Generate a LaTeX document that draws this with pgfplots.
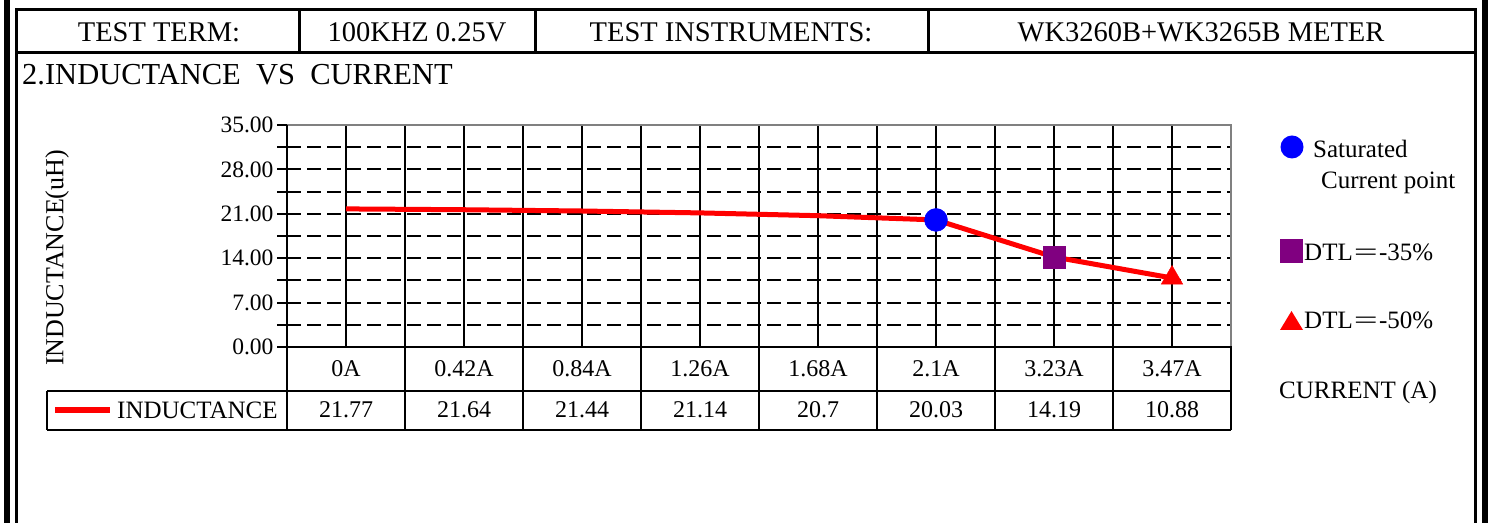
\documentclass[border=0pt]{standalone}
\usepackage{pgfplots}
\pgfplotsset{compat=1.18}
\usepackage{pgfplotstable}
\usepackage{graphicx}
\usepackage{fontspec}
\setmainfont{Liberation Serif}
\definecolor{mypurple}{RGB}{128,0,128}
\definecolor{axgray}{RGB}{128,128,128}
\newcommand{\hdfont}{\fontsize{28.5bp}{32bp}\selectfont}
\newcommand{\ttlfont}{\fontsize{30.5bp}{34bp}\selectfont}
\newcommand{\tbfont}{\fontsize{24bp}{28bp}\selectfont}
\newcommand{\lgfont}{\fontsize{25bp}{29bp}\selectfont}
\newcommand{\feq}{\makebox[1.05em]{\scalebox{1.7}[1]{=}}}

\pgfplotstableread{
x y
0 21.77
1 21.64
2 21.44
3 21.14
4 20.7
5 20.03
6 14.19
7 10.88
}\inductance

\begin{document}
\begin{tikzpicture}[x=1bp,y=1bp]
\useasboundingbox (0,0) rectangle (1493,523);
\fill[white] (0,0) rectangle (1493,523);
% outer frame
\fill[black] (4,0) rectangle (10,523);
\fill[black] (1482,0) rectangle (1488,523);
\draw[line width=3bp] (16.5,0) -- (16.5,513.5) -- (1475.5,513.5) -- (1475.5,0);
\draw[line width=3bp] (16.5,470.5) -- (1475.5,470.5);
\foreach \xx in {299,535,928} \draw[line width=3bp] (\xx,513.5) -- (\xx,470.5);
\node[font=\hdfont, inner sep=0] at (159,491) {TEST TERM:};
\node[font=\hdfont, inner sep=0] at (417,491) {100KHZ 0.25V};
\node[font=\hdfont, inner sep=0] at (731,491) {TEST INSTRUMENTS:};
\node[font=\hdfont, inner sep=0] at (1201,491) {WK3260B+WK3265B METER};
\node[font=\ttlfont, inner sep=0, anchor=west] at (22,448) {2.INDUCTANCE\ \ VS\ \ CURRENT};

\begin{axis}[
  at={(287bp,176bp)}, anchor=south west,
  scale only axis, width=944bp, height=222bp,
  xmin=-0.5, xmax=7.5, ymin=0, ymax=35,
  xtick={0,...,7}, minor xtick={0.5,1.5,...,6.5},
  xticklabels={},
  ytick={0,7,...,35}, minor ytick={3.5,10.5,...,31.5},
  ytick pos=left,
  grid=both,
  major x grid style={black, line width=2bp, solid},
  minor x grid style={black, line width=2bp, solid},
  major y grid style={black, line width=2bp, dash pattern=on 14bp off 6bp},
  minor y grid style={black, line width=2bp, dash pattern=on 14bp off 6bp},
  axis line style={draw=none},
  tick align=outside,
  major tick length=10bp, minor tick length=10bp,
  xtick style={draw=none},
  ytick style={black, line width=2bp},
  yticklabel style={font=\fontsize{23.5bp}{27bp}\selectfont, /pgf/number format/.cd, fixed, fixed zerofill, precision=2},
  /pgf/number format/assume math mode=true,
  clip=false,
]
\addplot[red, line width=5bp, mark=none] table[x=x, y=y] {\inductance};
\addplot[only marks, mark=*, mark size=11.5bp, blue, mark options={draw=blue, fill=blue}] coordinates {(5,20.03)};
\addplot[only marks, mark=square*, mark size=11bp, mypurple, mark options={draw=mypurple, fill=mypurple}] coordinates {(6,14.19)};
\addplot[only marks, mark=triangle*, mark size=12.5bp, red, mark options={draw=red, fill=red}] coordinates {(7,10.88)};
% table labels
\node[font=\tbfont, inner sep=0] at (axis cs:0,0) [yshift=-22bp] {0A};
\node[font=\tbfont, inner sep=0] at (axis cs:1,0) [yshift=-22bp] {0.42A};
\node[font=\tbfont, inner sep=0] at (axis cs:2,0) [yshift=-22bp] {0.84A};
\node[font=\tbfont, inner sep=0] at (axis cs:3,0) [yshift=-22bp] {1.26A};
\node[font=\tbfont, inner sep=0] at (axis cs:4,0) [yshift=-22bp] {1.68A};
\node[font=\tbfont, inner sep=0] at (axis cs:5,0) [yshift=-22bp] {2.1A};
\node[font=\tbfont, inner sep=0] at (axis cs:6,0) [yshift=-22bp] {3.23A};
\node[font=\tbfont, inner sep=0] at (axis cs:7,0) [yshift=-22bp] {3.47A};
\node[font=\tbfont, inner sep=0] at (axis cs:0,0) [yshift=-63bp] {21.77};
\node[font=\tbfont, inner sep=0] at (axis cs:1,0) [yshift=-63bp] {21.64};
\node[font=\tbfont, inner sep=0] at (axis cs:2,0) [yshift=-63bp] {21.44};
\node[font=\tbfont, inner sep=0] at (axis cs:3,0) [yshift=-63bp] {21.14};
\node[font=\tbfont, inner sep=0] at (axis cs:4,0) [yshift=-63bp] {20.7};
\node[font=\tbfont, inner sep=0] at (axis cs:5,0) [yshift=-63bp] {20.03};
\node[font=\tbfont, inner sep=0] at (axis cs:6,0) [yshift=-63bp] {14.19};
\node[font=\tbfont, inner sep=0] at (axis cs:7,0) [yshift=-63bp] {10.88};
\end{axis}

% axis frame and table lines
\draw[axgray, line width=2bp] (287,398) -- (1231,398) -- (1231,176);
\draw[black, line width=2.5bp] (287,398) -- (287,93);
\draw[black, line width=2bp] (287,176) -- (1231,176) -- (1231,93);
\draw[black, line width=2bp] (47,132) -- (1231,132);
\draw[black, line width=2bp] (47,93) -- (1231,93);
\draw[black, line width=2bp] (47,132) -- (47,93);
\foreach \k in {1,...,7} \draw[black, line width=2bp] ({287+118*\k},176) -- ({287+118*\k},93);
% legend cell
\draw[red, line width=6bp] (55,113) -- (110,113);
\node[font=\lgfont, inner sep=0, anchor=west] at (117,113) {INDUCTANCE};
% y label
\node[font=\fontsize{26bp}{30bp}\selectfont, inner sep=0, rotate=90] at (57,265) {INDUCTANCE(uH)};
% right legend
\fill[blue] (1292,376) circle (11.5);
\node[font=\lgfont, inner sep=0, anchor=west] at (1313,374) {Saturated};
\node[font=\lgfont, inner sep=0, anchor=west] at (1321,340) {Current point};
\fill[mypurple] (1280,260) rectangle (1303,284);
\node[font=\lgfont, inner sep=0, anchor=west] at (1304,271) {DTL\feq-35\%};
\fill[red] (1280,193) -- (1303,193) -- (1291.5,212) -- cycle;
\node[font=\lgfont, inner sep=0, anchor=west] at (1304,203) {DTL\feq-50\%};
\node[font=\lgfont, inner sep=0, anchor=west] at (1279,131) {CURRENT (A)};
\end{tikzpicture}
\end{document}
